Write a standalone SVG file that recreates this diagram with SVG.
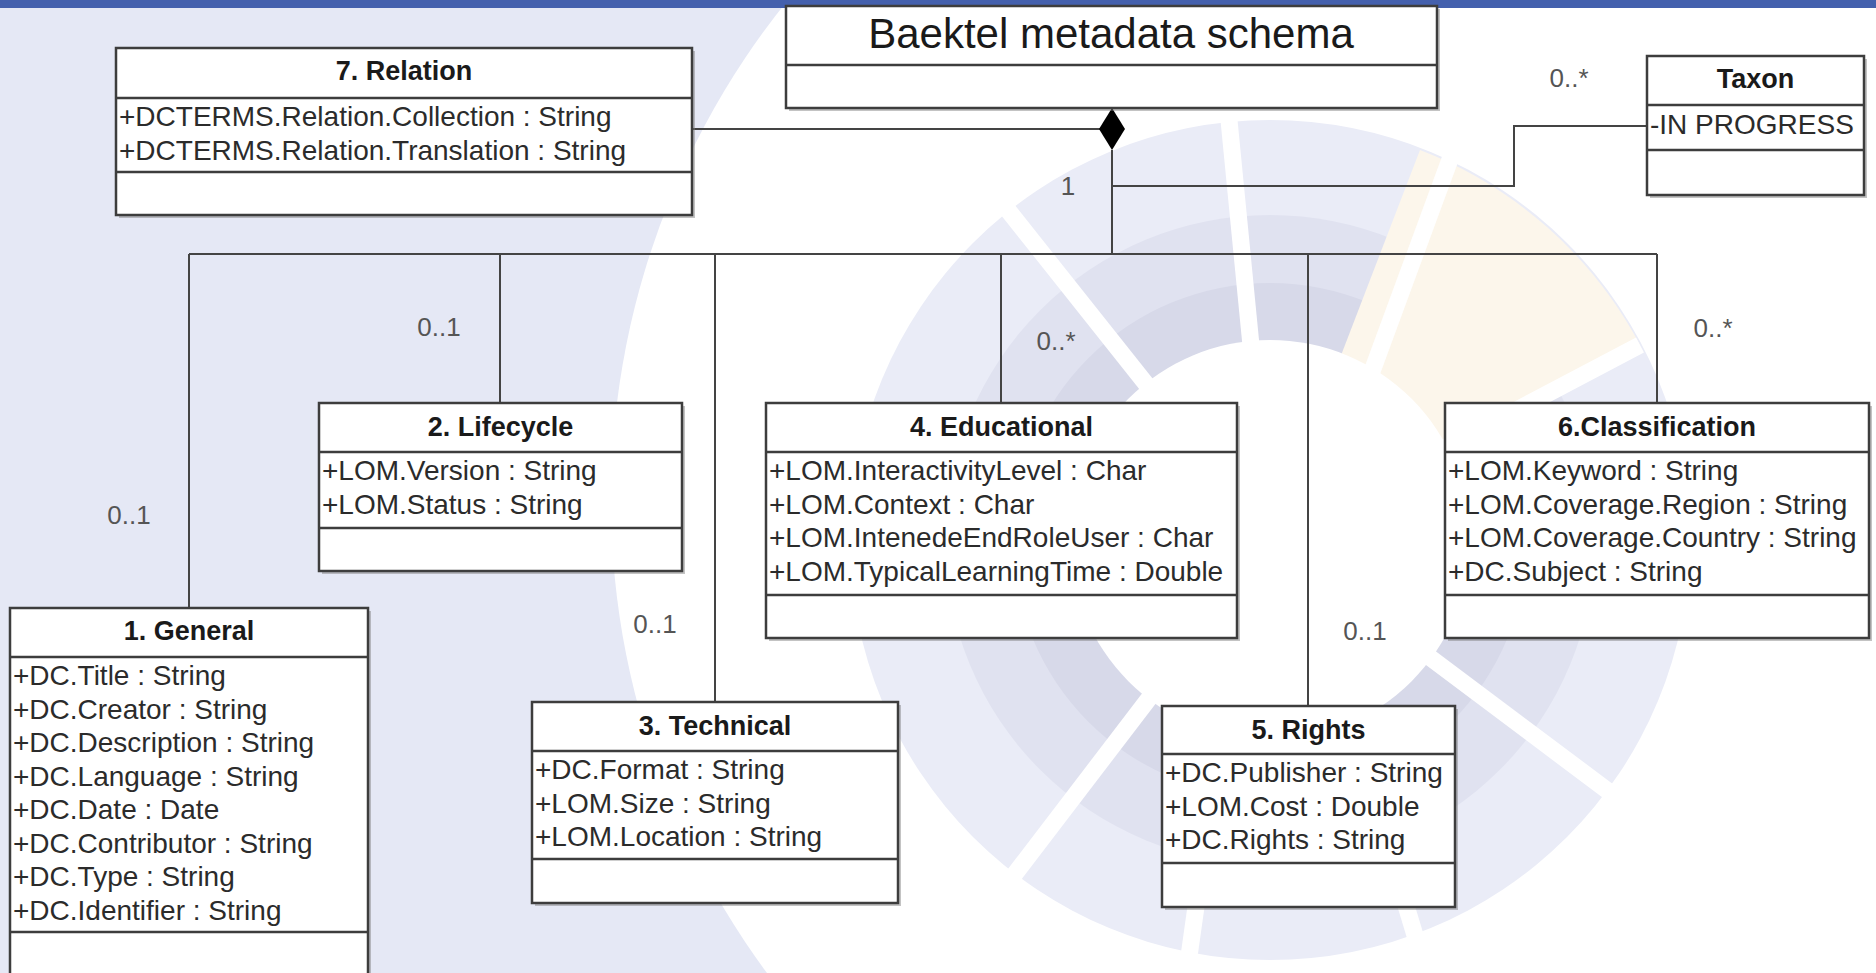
<svg xmlns="http://www.w3.org/2000/svg" width="1876" height="973" viewBox="0 0 1876 973">
<defs>
<style>
.box{fill:#fff;stroke:#3d3d3d;stroke-width:2.5}
.sh{fill:#7a7a7a;opacity:.45}
.dv{stroke:#3d3d3d;stroke-width:2.5}
.t{font-family:"Liberation Sans",Arial,sans-serif;font-size:27px;font-weight:bold;text-anchor:middle;fill:#1a1a1a}
.a{font-family:"Liberation Sans",Arial,sans-serif;font-size:28px;fill:#2b2b2b}
.m{font-family:"Liberation Sans",Arial,sans-serif;font-size:26px;fill:#555;text-anchor:middle}
.c{stroke:#444;stroke-width:2;fill:none}
.sp{stroke:#fff;stroke-width:17}
</style>
</defs>
<g id="background">
<rect x="0" y="0" width="1876" height="973" fill="#e5e8f5"/>
<circle cx="1406" cy="500" r="795" fill="#fff"/>
<circle cx="1270" cy="540" r="420" fill="#eaecf7"/>
<circle cx="1270" cy="540" r="325" fill="#e0e2f0"/>
<circle cx="1270" cy="540" r="257" fill="#d7d9e9"/>
<path d="M1270,540 L1420,150 A420,420 0 0 1 1640,345 Z" fill="#fcf6eb"/>
<circle cx="1270" cy="540" r="200" fill="#fff"/>
<line class="sp" x1="1270" y1="540" x2="930" y2="112"/>
<line class="sp" x1="1270" y1="540" x2="1228" y2="110"/>
<line class="sp" x1="1310" y1="540" x2="1470" y2="105"/>
<line class="sp" x1="1270" y1="540" x2="1640" y2="345"/>
<line class="sp" x1="1270" y1="540" x2="930" y2="985"/>
<line class="sp" x1="1300" y1="560" x2="1700" y2="860"/>
<line class="sp" x1="1225" y1="700" x2="1185" y2="985"/>
<line class="sp" x1="1350" y1="720" x2="1430" y2="985"/>
<rect x="0" y="0" width="1876" height="8" fill="#4460ad"/>
</g>
<g id="connectors">
<line class="c" x1="692" y1="129" x2="1100" y2="129"/>
<line class="c" x1="1112" y1="150" x2="1112" y2="254"/>
<polyline class="c" points="1112,186 1514,186 1514,126 1647,126"/>
<line class="c" x1="189" y1="254" x2="1657" y2="254"/>
<line class="c" x1="189" y1="254" x2="189" y2="608"/>
<line class="c" x1="500" y1="254" x2="500" y2="403"/>
<line class="c" x1="715" y1="254" x2="715" y2="702"/>
<line class="c" x1="1001" y1="254" x2="1001" y2="403"/>
<line class="c" x1="1308" y1="254" x2="1308" y2="706"/>
<line class="c" x1="1657" y1="254" x2="1657" y2="403"/>
<polygon points="1112,108 1125,129 1112,150 1099,129" fill="#000"/>
<text class="m" x="1068" y="195">1</text>
<text class="m" x="1569" y="87">0..*</text>
<text class="m" x="129" y="524">0..1</text>
<text class="m" x="439" y="336">0..1</text>
<text class="m" x="655" y="633">0..1</text>
<text class="m" x="1056" y="350">0..*</text>
<text class="m" x="1365" y="640">0..1</text>
<text class="m" x="1713" y="337">0..*</text>
</g>
<g id="baektel">
<rect class="sh" x="789" y="9" width="651" height="102"/>
<rect class="box" x="786" y="6" width="651" height="102"/>
<line class="dv" x1="786" y1="65" x2="1437" y2="65"/>
<text x="1111" y="48" font-family="Liberation Sans, Arial, sans-serif" font-size="42" text-anchor="middle" fill="#1a1a1a">Baektel metadata schema</text>
</g>
<g id="relation">
<rect class="sh" x="119" y="51" width="576" height="167"/>
<rect class="box" x="116" y="48" width="576" height="167"/>
<line class="dv" x1="116" y1="98" x2="692" y2="98"/>
<line class="dv" x1="116" y1="172" x2="692" y2="172"/>
<text class="t" x="404" y="80">7. Relation</text>
<text class="a" x="119" y="126">+DCTERMS.Relation.Collection : String</text>
<text class="a" x="119" y="159.5">+DCTERMS.Relation.Translation : String</text>
</g>
<g id="taxon">
<rect class="sh" x="1650" y="59" width="217" height="139"/>
<rect class="box" x="1647" y="56" width="217" height="139"/>
<line class="dv" x1="1647" y1="105" x2="1864" y2="105"/>
<line class="dv" x1="1647" y1="150" x2="1864" y2="150"/>
<text class="t" x="1755.5" y="88">Taxon</text>
<text class="a" x="1650" y="134">-IN PROGRESS</text>
</g>
<g id="general">
<rect class="sh" x="13" y="611" width="358" height="380"/>
<rect class="box" x="10" y="608" width="358" height="380"/>
<line class="dv" x1="10" y1="657" x2="368" y2="657"/>
<line class="dv" x1="10" y1="932" x2="368" y2="932"/>
<text class="t" x="189" y="640">1. General</text>
<text class="a" x="13" y="685">+DC.Title : String</text>
<text class="a" x="13" y="718.5">+DC.Creator : String</text>
<text class="a" x="13" y="752">+DC.Description : String</text>
<text class="a" x="13" y="785.5">+DC.Language : String</text>
<text class="a" x="13" y="819">+DC.Date : Date</text>
<text class="a" x="13" y="852.5">+DC.Contributor : String</text>
<text class="a" x="13" y="886">+DC.Type : String</text>
<text class="a" x="13" y="919.5">+DC.Identifier : String</text>
</g>
<g id="lifecycle">
<rect class="sh" x="322" y="406" width="363" height="168"/>
<rect class="box" x="319" y="403" width="363" height="168"/>
<line class="dv" x1="319" y1="452" x2="682" y2="452"/>
<line class="dv" x1="319" y1="528" x2="682" y2="528"/>
<text class="t" x="500.5" y="436">2. Lifecycle</text>
<text class="a" x="322" y="480">+LOM.Version : String</text>
<text class="a" x="322" y="513.5">+LOM.Status : String</text>
</g>
<g id="technical">
<rect class="sh" x="535" y="705" width="366" height="201"/>
<rect class="box" x="532" y="702" width="366" height="201"/>
<line class="dv" x1="532" y1="751" x2="898" y2="751"/>
<line class="dv" x1="532" y1="859" x2="898" y2="859"/>
<text class="t" x="715" y="735">3. Technical</text>
<text class="a" x="535" y="779">+DC.Format : String</text>
<text class="a" x="535" y="812.5">+LOM.Size : String</text>
<text class="a" x="535" y="846">+LOM.Location : String</text>
</g>
<g id="educational">
<rect class="sh" x="769" y="406" width="471" height="235"/>
<rect class="box" x="766" y="403" width="471" height="235"/>
<line class="dv" x1="766" y1="452" x2="1237" y2="452"/>
<line class="dv" x1="766" y1="595" x2="1237" y2="595"/>
<text class="t" x="1001.5" y="436">4. Educational</text>
<text class="a" x="769" y="480">+LOM.InteractivityLevel : Char</text>
<text class="a" x="769" y="513.5">+LOM.Context : Char</text>
<text class="a" x="769" y="547">+LOM.IntenedeEndRoleUser : Char</text>
<text class="a" x="769" y="580.5">+LOM.TypicalLearningTime : Double</text>
</g>
<g id="rights">
<rect class="sh" x="1165" y="709" width="293" height="201"/>
<rect class="box" x="1162" y="706" width="293" height="201"/>
<line class="dv" x1="1162" y1="754" x2="1455" y2="754"/>
<line class="dv" x1="1162" y1="863" x2="1455" y2="863"/>
<text class="t" x="1308.5" y="739">5. Rights</text>
<text class="a" x="1165" y="782">+DC.Publisher : String</text>
<text class="a" x="1165" y="815.5">+LOM.Cost : Double</text>
<text class="a" x="1165" y="849">+DC.Rights : String</text>
</g>
<g id="classification">
<rect class="sh" x="1448" y="406" width="424" height="235"/>
<rect class="box" x="1445" y="403" width="424" height="235"/>
<line class="dv" x1="1445" y1="452" x2="1869" y2="452"/>
<line class="dv" x1="1445" y1="595" x2="1869" y2="595"/>
<text class="t" x="1657" y="436">6.Classification</text>
<text class="a" x="1448" y="480">+LOM.Keyword : String</text>
<text class="a" x="1448" y="513.5">+LOM.Coverage.Region : String</text>
<text class="a" x="1448" y="547">+LOM.Coverage.Country : String</text>
<text class="a" x="1448" y="580.5">+DC.Subject : String</text>
</g>
</svg>
